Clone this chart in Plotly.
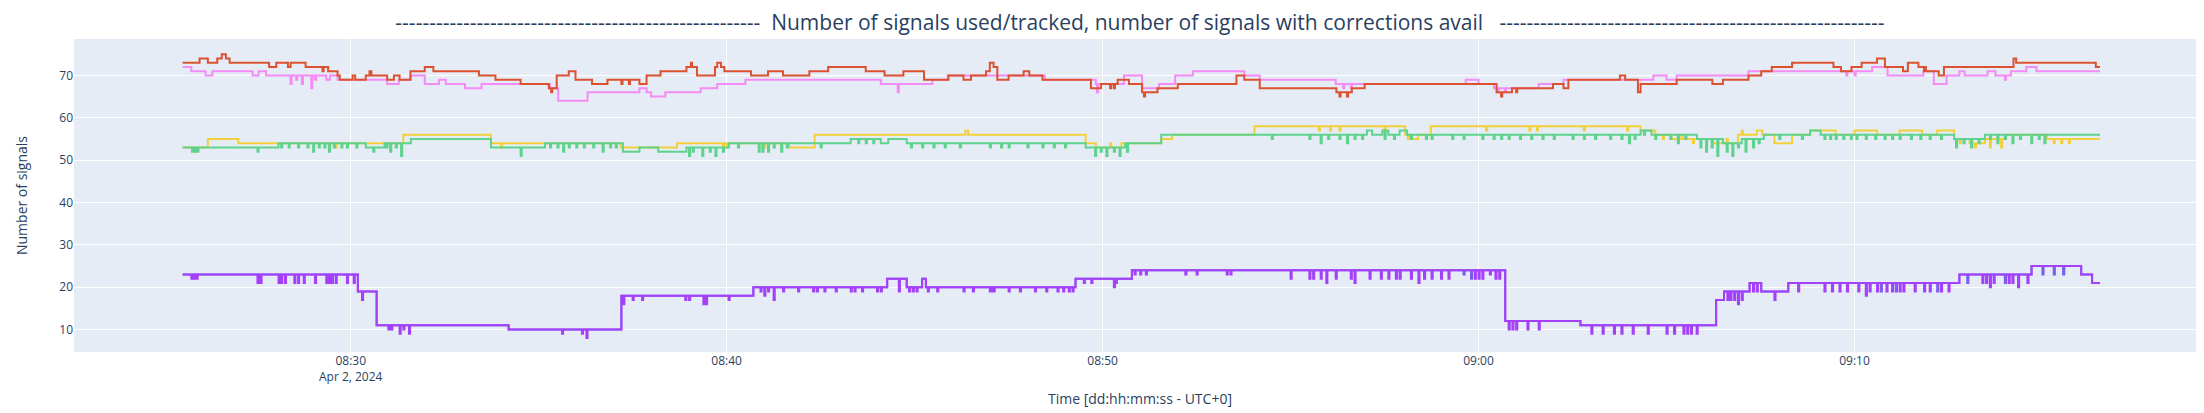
import pandas as pd
import plotly.graph_objects as go

# ---------------- data (minutes after 08:00 UTC, 2 Apr 2024) ----------------
BASE_TIME = "2024-04-02 08:00:00"

red_steps = [(25.53,73),(25.98,74),(26.20,73),(26.45,74),(26.57,75),(26.68,74),(26.78,73),(27.83,72),(28.02,73),(28.33,72),(28.40,73),(28.80,72),(29.40,71),(29.65,70),(29.71,69),(30.05,70),(30.12,69),(30.40,70),(30.50,71),(30.55,70),(30.97,69),(31.15,70),(31.30,69),(31.59,71),(31.97,72),(32.20,71),(33.41,70),(33.85,69),(34.52,68),(35.27,67),(35.48,70),(35.80,71),(35.98,69),(36.42,68),(36.83,69),(37.68,68),(37.87,70),(38.24,71),(38.93,72),(39.21,70),(39.69,72),(39.75,73),(39.85,72),(39.94,71),(40.65,70),(41.10,71),(41.50,70),(42.20,71),(42.70,72),(43.70,71),(44.20,70),(44.70,71),(45.25,69),(45.90,70),(46.30,69),(46.50,70),(46.90,71),(47.00,73),(47.10,72),(47.20,69),(47.50,70),(47.90,71),(48.05,70),(48.40,69),(49.69,67),(49.96,68),(50.40,69),(50.70,68),(51.05,66),(51.46,67),(52.00,68),(53.56,70),(53.77,69),(54.18,67),(56.22,66),(56.63,67),(56.97,68),(60.48,66),(60.89,67),(61.98,68),(62.26,67),(62.39,69),(63.76,70),(63.90,69),(64.24,66),(64.31,68),(65.27,69),(66.22,68),(66.50,69),(67.18,70),(67.52,71),(67.80,72),(68.34,73),(69.44,72),(69.64,71),(69.92,72),(70.19,73),(70.60,74),(70.81,72),(71.29,71),(71.42,73),(71.70,72),(71.90,71),(72.24,70),(72.38,72),(74.23,74),(74.30,73),(76.42,72),(76.53,72)]
red_dips = [(29.25,71),(35.33,66),(35.40,67),(37.20,68),(37.40,68),(38.30,71),(39.05,73),(41.80,70),(44.50,70),(50.20,67),(50.30,67),(51.10,65),(56.30,65),(56.50,65),(57.50,68),(60.60,65),(61.00,66),(63.85,70),(71.85,71)]

pink_steps = [(25.53,72),(25.76,71),(26.14,70),(26.32,71),(27.39,70),(27.55,71),(27.75,70),(29.35,69),(29.45,70),(29.65,69),(30.97,68),(31.28,69),(31.59,70),(31.97,68),(32.35,69),(32.53,68),(33.04,67),(33.48,68),(35.30,67),(35.52,64),(36.30,66),(37.68,67),(37.87,66),(37.99,65),(38.37,66),(39.31,67),(39.75,68),(40.50,69),(44.10,68),(45.47,69),(45.88,70),(48.46,69),(49.82,68),(50.57,70),(51.05,67),(51.50,68),(51.93,70),(52.40,71),(53.77,70),(54.18,69),(56.20,68),(59.66,69),(60.00,68),(60.41,67),(61.60,68),(62.26,69),(64.65,70),(65.00,69),(65.27,70),(67.18,71),(70.47,72),(70.88,70),(71.83,71),(72.11,68),(72.45,70),(72.79,71),(72.93,70),(73.54,71),(73.75,70),(74.16,71),(74.57,72),(74.84,71),(76.53,71)]
pink_dips = [(28.40,68),(28.55,69),(28.70,68),(28.95,67),(29.05,69),(44.55,66),(49.85,66),(56.40,67),(56.60,67),(60.50,66),(60.70,66),(69.78,70),(70.00,70),(74.00,69)]

green_steps = [(25.53,53),(28.08,54),(30.40,53),(30.90,54),(31.60,55),(33.73,53),(35.17,54),(37.24,52),(37.68,53),(38.18,52),(38.93,53),(40.06,54),(43.30,55),(44.10,54),(44.30,55),(44.79,54),(49.55,53),(50.60,54),(51.56,56),(57.03,57),(57.17,56),(57.44,57),(57.60,56),(57.90,57),(58.10,56),(64.31,57),(64.60,56),(65.81,55),(66.50,54),(67.00,55),(67.59,56),(68.82,57),(69.10,56),(72.65,55),(73.47,56),(76.53,56)]
green_dips = [(25.78,52),(25.85,52),(25.92,52),(27.52,52),(28.15,53),(28.35,53),(28.60,53),(28.85,53),(29.00,52),(29.15,53),(29.30,53),(29.42,52),(29.55,53),(29.75,53),(29.90,53),(30.15,53),(30.60,52),(30.95,53),(31.05,52),(31.20,53),(31.34,51),(34.52,51),(35.30,53),(35.50,53),(35.65,52),(35.80,53),(36.00,53),(36.20,53),(36.45,53),(36.70,52),(36.90,53),(37.05,53),(39.00,51),(39.10,52),(39.35,51),(39.55,52),(39.70,51),(39.90,52),(40.30,53),(40.85,52),(40.95,52),(41.10,52),(41.25,53),(41.45,52),(41.60,53),(42.50,53),(43.00,54),(43.50,54),(43.70,54),(43.90,54),(44.90,53),(45.20,53),(45.50,53),(45.80,53),(46.20,53),(47.00,53),(47.30,53),(47.50,53),(48.00,53),(48.40,53),(48.70,53),(49.00,53),(49.80,51),(49.95,52),(50.10,51),(50.30,52),(50.45,51),(50.65,52),(54.50,55),(55.50,55),(55.80,54),(56.00,55),(56.30,55),(56.50,54),(56.70,55),(56.90,55),(57.50,55),(57.75,55),(58.20,55),(58.60,55),(58.75,55),(59.30,55),(59.60,55),(60.10,55),(60.40,55),(60.60,55),(60.80,55),(61.10,55),(61.40,55),(61.70,55),(62.00,55),(62.50,55),(62.80,55),(63.10,55),(63.50,55),(63.80,55),(64.00,54),(64.15,55),(64.40,56),(64.70,55),(65.10,55),(65.30,54),(65.50,55),(65.90,53),(66.05,52),(66.20,53),(66.35,51),(66.60,52),(66.75,51),(66.90,53),(67.10,52),(67.30,53),(67.45,54),(68.00,55),(68.60,55),(69.20,55),(69.35,55),(69.50,55),(69.70,55),(69.90,55),(70.05,55),(70.30,55),(70.55,55),(70.80,55),(71.00,55),(71.20,55),(71.50,55),(71.75,55),(72.00,55),(72.30,55),(72.70,53),(72.90,54),(73.10,53),(73.30,54),(73.60,55),(73.80,54),(74.00,55),(74.20,54),(74.40,55),(74.70,54),(74.90,55),(75.05,54)]

yellow_steps = [(25.53,53),(26.20,55),(27.01,54),(31.40,56),(33.73,54),(37.18,53),(38.68,54),(40.00,53),(40.03,54),(41.66,53),(42.34,56),(46.35,57),(46.42,56),(49.55,54),(49.82,53),(50.50,54),(51.56,55),(51.85,56),(54.04,58),(58.05,56),(58.20,55),(58.39,56),(58.73,58),(64.31,57),(64.70,56),(65.13,55),(66.22,54),(66.90,56),(67.40,57),(67.55,56),(67.87,54),(68.34,56),(68.82,57),(69.50,56),(70.00,57),(70.60,56),(71.20,57),(71.80,56),(72.20,57),(72.65,55),(73.06,54),(73.47,55),(74.00,56),(75.12,55),(76.53,55)]
yellow_dips = [(25.85,52),(29.60,53),(34.00,53),(39.90,53),(41.00,53),(50.00,53),(50.20,54),(55.75,57),(56.05,57),(56.30,57),(57.50,57),(58.12,55),(60.20,57),(61.35,57),(61.55,57),(62.80,57),(63.95,57),(64.90,55),(65.40,56),(65.70,54),(66.00,55),(66.60,55),(67.00,57),(72.80,54),(73.20,53),(73.60,53),(73.90,53),(75.30,54),(75.50,54),(75.70,54)]

purple_steps = [(25.53,23),(30.19,19),(30.69,11),(34.20,10),(37.20,18),(40.71,20),(44.27,22),(44.79,20),(45.20,22),(45.30,20),(49.28,22),(50.78,24),(60.71,12),(62.71,11),(66.32,17),(66.53,19),(67.21,21),(67.52,19),(68.24,21),(72.79,23),(74.71,25),(76.03,23),(76.32,21),(76.53,21)]
purple_dips = [(25.76,22),(25.82,22),(25.90,22),(27.52,21),(27.60,21),(28.08,21),(28.15,21),(28.25,21),(28.50,21),(28.60,21),(28.75,21),(29.05,21),(29.35,21),(29.42,21),(29.50,21),(29.60,21),(29.90,21),(30.08,21),(30.30,17),(31.00,10),(31.08,10),(31.30,9),(31.40,10),(31.55,9),(35.62,9),(36.15,9),(36.27,8),(37.25,16),(37.50,17),(37.75,17),(38.90,17),(39.00,17),(39.38,16),(39.45,16),(40.05,17),(40.90,19),(41.00,18),(41.10,19),(41.25,17),(41.50,19),(41.90,19),(42.30,19),(42.40,19),(42.60,19),(42.90,19),(43.30,19),(43.40,19),(43.60,19),(44.00,19),(44.10,19),(44.58,19),(44.85,19),(44.95,19),(45.05,19),(45.35,19),(45.60,19),(46.30,19),(46.55,19),(47.00,19),(47.05,19),(47.10,19),(47.50,19),(47.80,19),(48.20,19),(48.50,19),(48.80,19),(48.95,19),(49.10,19),(49.20,19),(49.50,21),(49.70,21),(50.30,20),(50.35,21),(50.85,23),(51.00,23),(51.15,23),(52.20,23),(52.50,23),(53.30,23),(53.40,23),(55.00,22),(55.50,22),(55.60,22),(55.80,22),(55.95,21),(56.20,22),(56.60,22),(56.70,21),(57.10,22),(57.40,22),(57.60,22),(57.80,22),(57.90,22),(58.20,22),(58.40,21),(58.55,22),(58.75,22),(59.00,22),(59.20,22),(59.90,22),(60.00,22),(60.10,22),(60.30,23),(60.45,22),(60.55,22),(60.80,10),(60.90,10),(61.00,10),(61.30,10),(61.60,10),(63.00,9),(63.30,9),(63.60,9),(63.80,9),(64.10,9),(64.50,9),(65.00,9),(65.20,9),(65.45,9),(65.55,9),(65.65,9),(65.80,9),(66.62,17),(66.70,17),(66.80,17),(66.90,16),(67.00,17),(67.30,19),(67.40,19),(67.87,17),(68.50,19),(69.20,19),(69.40,19),(69.60,19),(69.80,19),(70.10,19),(70.30,18),(70.40,19),(70.60,19),(70.85,19),(71.00,19),(71.20,19),(71.30,19),(71.60,19),(71.85,19),(72.00,19),(72.30,19),(72.50,19),(73.40,21),(73.50,21),(73.60,20),(73.70,21),(74.10,21),(74.20,21),(74.35,20),(74.60,21)]
blue_dips = [(59.60,23),(59.80,22),(70.70,19),(71.10,19),(72.20,19),(73.00,21),(74.00,21),(75.00,23),(75.30,23),(75.55,23)]

TITLE_TEXT = "Number of signals used/tracked, number of signals with corrections avail"
Y_TITLE = "Number of signals"
X_TITLE = "Time [dd:hh:mm:ss - UTC+0]"


def build(steps, dips, w=0.03):
    steps = sorted(steps)

    def base(t):
        v = steps[0][1]
        for ti, vi in steps:
            if ti <= t:
                v = vi
            else:
                break
        return v

    pts = list(steps)
    for td, vd in dips:
        pts.append((td, vd))
        pts.append((td + w, base(td + w)))
    pts.sort(key=lambda p: p[0])
    t0 = pd.Timestamp(BASE_TIME)
    xs = [t0 + pd.Timedelta(minutes=p[0]) for p in pts]
    ys = [p[1] for p in pts]
    return xs, ys


series = [
    ("blue", purple_steps, blue_dips, "#7A5CF0"),
    ("purple", purple_steps, purple_dips, "#A540FA"),
    ("yellow", yellow_steps, yellow_dips, "#F2D03A"),
    ("green", green_steps, green_dips, "#5FD38E"),
    ("pink", pink_steps, pink_dips, "#F58BF5"),
    ("red", red_steps, red_dips, "#DC5230"),
]

fig = go.Figure()
for name, st, dp, col in series:
    xs, ys = build(st, dp)
    fig.add_trace(go.Scatter(x=xs, y=ys, mode="lines", name=name,
                             line=dict(color=col, width=2, shape="hv"),
                             showlegend=False))

t0 = pd.Timestamp(BASE_TIME)
left_dashes = "-" * 54
right_dashes = "-" * 57
fig.update_layout(
    template="plotly",
    width=2204, height=413,
    margin=dict(l=66, r=6, t=31, b=69),
    title=dict(text=f"{left_dashes}  {TITLE_TEXT}   {right_dashes}",
               x=0.5, xref="paper", xanchor="center",
               y=1 - 15 / 413, yref="container", yanchor="middle",
               font=dict(size=21, color="#2a3f5f")),
    xaxis=dict(title=dict(text=X_TITLE, standoff=10),
               range=[t0 + pd.Timedelta(minutes=22.64), t0 + pd.Timedelta(minutes=79.35)],
               tick0=t0 + pd.Timedelta(minutes=30), dtick=600000),
    yaxis=dict(title=dict(text=Y_TITLE, standoff=28), range=[4.7, 78.6], dtick=10, tick0=0),
)

fig.write_html("out.html")
